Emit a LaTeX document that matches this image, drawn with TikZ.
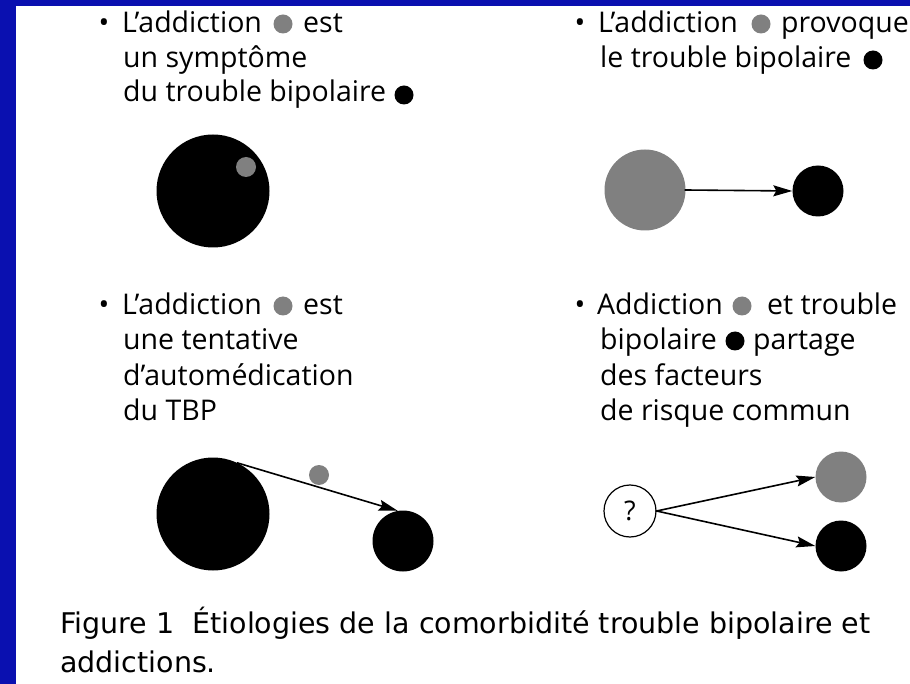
\documentclass[tikz,border=0pt]{standalone}
\usepackage{fontspec}
\setmainfont{Open Sans}
\newfontfamily\capfont{DejaVu Sans}
\usetikzlibrary{arrows.meta}
\definecolor{slideblue}{RGB}{10,16,176}
\definecolor{addgray}{RGB}{128,128,128}
\tikzset{
  txt/.style={anchor=base west, inner sep=0pt, font=\fontsize{28.5}{32}\selectfont},
  captxt/.style={anchor=base west, inner sep=0pt, font=\capfont\fontsize{28.5}{34}\selectfont},
  bul/.style={anchor=base, inner sep=0pt, font=\fontsize{28.5}{32}\selectfont},
  blk/.style={circle, fill=black, inner sep=0pt},
  gry/.style={circle, fill=addgray, inner sep=0pt},
  arr/.style={-{Stealth[length=19pt,width=11pt,inset=3pt]}, line width=1.6pt, shorten <=-1pt}
}
\begin{document}
\begin{tikzpicture}[x=1pt,y=-1pt]
% Background
\fill[slideblue] (0,0) rectangle (910,684);
\fill[white] (16,6) rectangle (910,684);
\useasboundingbox (0,0) rectangle (910,684);

% Top left: symptome
\node[bul] (b1) at (104,33) {\textbullet};
\node[txt] (t1a) at (122,33) {L’addiction};
\node[gry, minimum size=19pt] (d1a) at (283,24) {};
\node[txt] (t1b) at (303,33) {est};
\node[txt] (t1c) at (123,68) {un symptôme};
\node[txt] (t1d) at (123,102) {du trouble bipolaire};
\node[blk, minimum size=19pt] (d1b) at (404,95) {};
\node[blk, minimum size=113pt] (big1) at (213,191) {};
\node[gry, minimum size=20pt] (small1) at (246,167) {};

% Top right: provoque
\node[bul] (b2) at (580,33) {\textbullet};
\node[txt] (t2a) at (598,33) {L’addiction};
\node[gry, minimum size=19pt] (d2a) at (761,24) {};
\node[txt] (t2b) at (781,33) {provoque};
\node[txt] (t2c) at (600,68) {le trouble bipolaire};
\node[blk, minimum size=19pt] (d2b) at (873,60) {};
\node[gry, minimum size=81pt] (add2) at (645,190) {};
\node[blk, minimum size=51pt] (tbp2) at (818,191) {};
\draw[arr] (add2.east) -- (tbp2.west);

% Bottom left: automedication
\node[bul] (b3) at (104,315) {\textbullet};
\node[txt] (t3a) at (122,315) {L’addiction};
\node[gry, minimum size=19pt] (d3a) at (283,306) {};
\node[txt] (t3b) at (303,315) {est};
\node[txt] (t3c) at (123,350) {une tentative};
\node[txt] (t3d) at (123,385) {d’automédication};
\node[txt] (t3e) at (123,420) {du TBP};
\node[blk, minimum size=113pt] (big3) at (213,514) {};
\node[blk, minimum size=61pt] (tbp3) at (403,541) {};
\node[gry, minimum size=20pt] (add3) at (319,475) {};
\draw[arr] (big3.64) -- (tbp3.100);

% Bottom right: facteurs communs
\node[bul] (b4) at (580,315) {\textbullet};
\node[txt] (t4a) at (597,315) {Addiction};
\node[gry, minimum size=19pt] (d4a) at (742,306) {};
\node[txt] (t4b) at (767,315) {et trouble};
\node[txt] (t4c) at (600,350) {bipolaire};
\node[blk, minimum size=19pt] (d4b) at (735,341) {};
\node[txt] (t4d) at (753,350) {partage};
\node[txt] (t4e) at (600,385) {des facteurs};
\node[txt] (t4f) at (600,420) {de risque commun};
\node[circle, draw, line width=1.2pt, minimum size=52pt, inner sep=0pt, font=\fontsize{27}{30}\selectfont] (q) at (630,511) {?};
\node[gry, minimum size=51pt] (add4) at (841,477) {};
\node[blk, minimum size=51pt] (tbp4) at (841,546) {};
\draw[arr] (q.east) -- (add4.west);
\draw[arr] (q.east) -- (tbp4.west);

% Caption
\node[captxt] (c1) at (60,633) {Figure 1\ \ Étiologies de la comorbidité trouble bipolaire et};
\node[captxt] (c2) at (60,672) {addictions.};
\end{tikzpicture}
\end{document}
